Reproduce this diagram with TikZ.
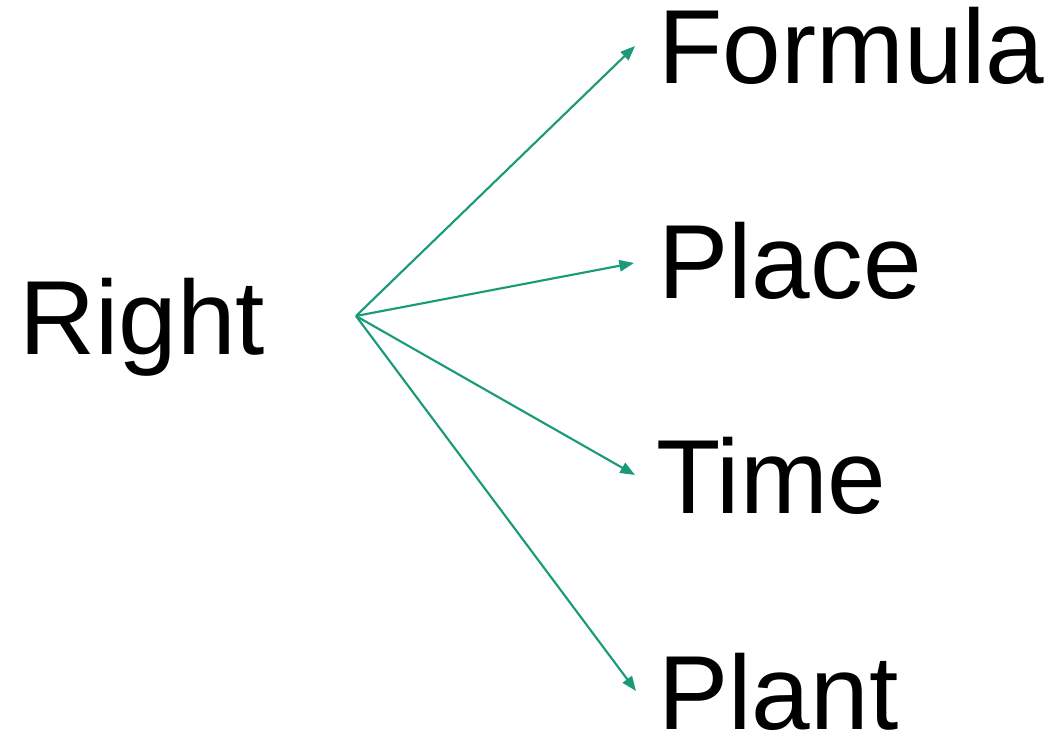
\documentclass[tikz,border=0pt]{standalone}
\usepackage{fontspec}
\setmainfont{Liberation Sans}
\usetikzlibrary{arrows.meta}
\definecolor{linkgreen}{RGB}{26,154,120}
\tikzset{
  word/.style={inner sep=0pt, anchor=base west, font=\fontsize{79}{92}\selectfont},
  link/.style={draw=linkgreen, line width=1.6pt, -{Triangle[length=11pt,width=8.5pt]}}
}
\begin{document}
\begin{tikzpicture}[x=0.75pt, y=-0.75pt]
  \useasboundingbox (0,0) rectangle (1053,737);
  % words
  \node[word] (right) at (19,355) {Right};
  \node[word] (formula) at (658,84) {Formula};
  \node[word] (place) at (658,299) {Place};
  \node[word] (time) at (656,514) {Time};
  \node[word] (plant) at (658,729) {Plant};
  % fan of arrows from a common hub
  \coordinate (hub) at (356,316);
  \coordinate (tF) at (635,46);
  \coordinate (tPl) at (634,263);
  \coordinate (tT) at (635,475);
  \coordinate (tPn) at (636,691);
  \draw[link] (hub) -- (tF);
  \draw[link] (hub) -- (tPl);
  \draw[link] (hub) -- (tT);
  \draw[link] (hub) -- (tPn);
\end{tikzpicture}
\end{document}
